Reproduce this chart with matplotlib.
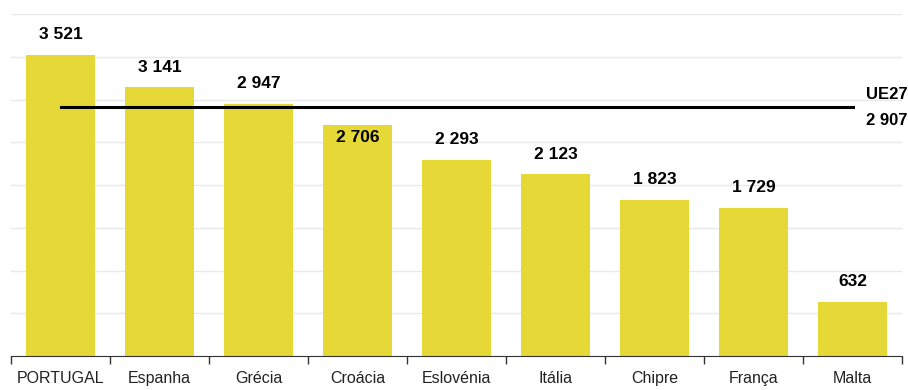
import matplotlib
matplotlib.use("Agg")
import matplotlib.pyplot as plt
import numpy as np

countries = ["PORTUGAL", "Espanha", "Grécia", "Croácia", "Eslovénia",
             "Itália", "Chipre", "França", "Malta"]
values = [3521, 3141, 2947, 2706, 2293, 2123, 1823, 1729, 632]
ue27 = 2907

plt.rcParams['font.family'] = ['Liberation Sans', 'DejaVu Sans']

fig = plt.figure(figsize=(9.08, 3.9), dpi=100)
ax = fig.add_axes([11/908, 1 - 356/390, 891/908, 342/390])

x = np.arange(len(countries))
ax.bar(x, values, width=0.7, color="#E5D837", zorder=2)

ax.set_xlim(-0.5, len(countries) - 0.5)
ax.set_ylim(0, 4000)
ax.set_yticks(np.arange(0, 4001, 500))
ax.yaxis.grid(True, color="#E8E8E8", linewidth=1, zorder=0)
ax.tick_params(axis="y", length=0, labelleft=False)

# tick marks between categories, labels at centres
ax.set_xticks(np.arange(-0.5, len(countries)), minor=False)
ax.set_xticklabels([])
ax.set_xticks(x, minor=True)
ax.set_xticklabels(countries, minor=True, fontsize=11.5, color="#222222")
ax.tick_params(axis="x", which="major", length=6, width=1, color="#333333", direction="out")
ax.tick_params(axis="x", which="minor", length=0, pad=11)

for s in ["top", "right", "left"]:
    ax.spines[s].set_visible(False)
ax.spines["bottom"].set_color("#333333")

# UE27 average line
ax.plot([0, len(countries) - 1], [ue27, ue27], color="black", linewidth=2.2, zorder=3)
ax.text(1.006, ue27 + 60, "UE27", transform=ax.get_yaxis_transform(), ha="right", va="bottom",
        fontsize=12, fontweight="bold", clip_on=False)
ax.text(1.006, ue27 - 60, f"{ue27:,}".replace(",", " "), transform=ax.get_yaxis_transform(),
        ha="right", va="top", fontsize=12, fontweight="bold", clip_on=False)

for xi, v in zip(x, values):
    lab = f"{v:,}".replace(",", " ")
    if countries[xi] == "Croácia":
        ax.text(xi, v - 60, lab, ha="center", va="top", fontsize=12.5, fontweight="bold", zorder=4)
    else:
        ax.text(xi, v + 150, lab, ha="center", va="bottom", fontsize=12.5, fontweight="bold", zorder=4)

fig.savefig("out.png", dpi=100)
